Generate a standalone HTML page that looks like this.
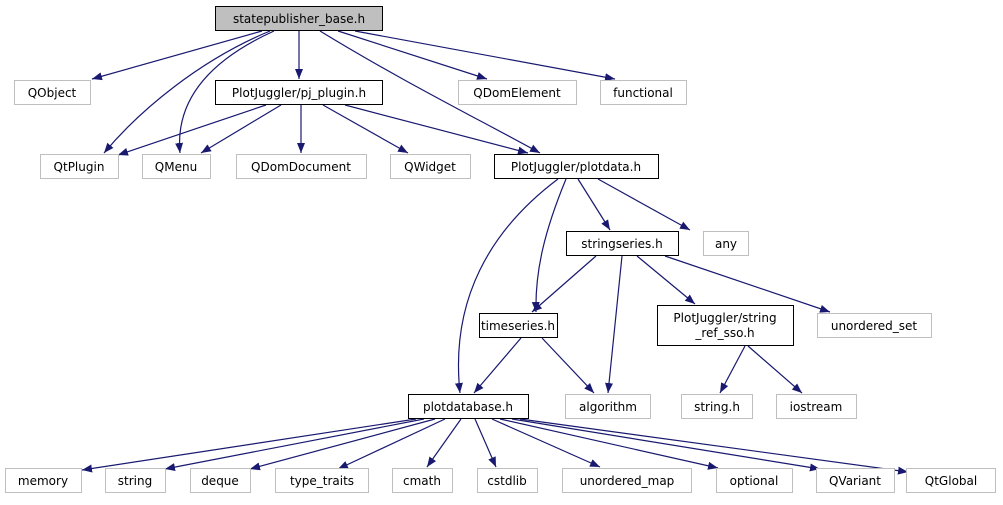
<!DOCTYPE html>
<html><head><meta charset="utf-8"><style>
body{margin:0;background:#fff;width:1003px;height:500px;overflow:hidden}
svg text{font-family:"DejaVu Sans","Liberation Sans",sans-serif;font-size:12px;fill:#000}
</style></head><body>
<svg width="1003" height="500" viewBox="0 0 1003 500" xmlns="http://www.w3.org/2000/svg">
<defs><marker id="a" viewBox="0 0 10 10" refX="10" refY="5" markerWidth="10" markerHeight="10" markerUnits="userSpaceOnUse" orient="auto"><path d="M0,1 L10,5 L0,9 z" fill="#191970"/></marker></defs>
<g stroke="#191970" stroke-width="1.2" fill="none" marker-end="url(#a)">
<path d="M262,31 L92,79"/>
<path d="M270,31 C200,60 140,110 104,153"/>
<path d="M274,31 C210,60 175,100 180,153"/>
<path d="M299,31 L299,79"/>
<path d="M320,31 C400,80 480,120 540,153"/>
<path d="M338,31 L487,79"/>
<path d="M355,31 L615,79"/>
<path d="M266,105 L118,155"/>
<path d="M281,105 L201,153"/>
<path d="M301,105 L301,153"/>
<path d="M323,105 L408,153"/>
<path d="M345,105 L528,153"/>
<path d="M558,179 C490,230 450,300 460,393"/>
<path d="M566,179 C545,230 535,270 536,312"/>
<path d="M578,179 L610,230"/>
<path d="M598,179 L690,230"/>
<path d="M596,256 L532,312"/>
<path d="M622,256 L608,393"/>
<path d="M637,256 L695,304"/>
<path d="M665,256 L830,312"/>
<path d="M521,338 L474,393"/>
<path d="M542,338 L594,393"/>
<path d="M745,346 L720,393"/>
<path d="M748,346 L802,393"/>
<path d="M416,419 L82,470"/>
<path d="M424,419 L165,469"/>
<path d="M435,419 L250,469"/>
<path d="M445,419 L338,469"/>
<path d="M461,419 L427,467"/>
<path d="M475,419 L496,467"/>
<path d="M492,419 L600,467"/>
<path d="M500,419 L718,468"/>
<path d="M512,419 L820,469"/>
<path d="M520,419 L908,472"/>
</g>
<g stroke-width="1">
<rect x="215.5" y="6.5" width="167" height="24" fill="#bfbfbf" stroke="#000"/>
<rect x="14.5" y="80.5" width="76" height="24" fill="#fff" stroke="#bfbfbf"/>
<rect x="215.5" y="80.5" width="167" height="24" fill="#fff" stroke="#000"/>
<rect x="458.5" y="80.5" width="118" height="24" fill="#fff" stroke="#bfbfbf"/>
<rect x="600.5" y="80.5" width="86" height="24" fill="#fff" stroke="#bfbfbf"/>
<rect x="40.5" y="154.5" width="78" height="24" fill="#fff" stroke="#bfbfbf"/>
<rect x="142.5" y="154.5" width="68" height="24" fill="#fff" stroke="#bfbfbf"/>
<rect x="236.5" y="154.5" width="130" height="24" fill="#fff" stroke="#bfbfbf"/>
<rect x="390.5" y="154.5" width="80" height="24" fill="#fff" stroke="#bfbfbf"/>
<rect x="494.5" y="154.5" width="164" height="24" fill="#fff" stroke="#000"/>
<rect x="566.5" y="231.5" width="112" height="24" fill="#fff" stroke="#000"/>
<rect x="703.5" y="231.5" width="45" height="24" fill="#fff" stroke="#bfbfbf"/>
<rect x="479.5" y="313.5" width="78" height="24" fill="#fff" stroke="#000"/>
<rect x="657.5" y="305.5" width="136" height="40" fill="#fff" stroke="#000"/>
<rect x="817.5" y="313.5" width="114" height="24" fill="#fff" stroke="#bfbfbf"/>
<rect x="408.5" y="394.5" width="120" height="24" fill="#fff" stroke="#000"/>
<rect x="565.5" y="394.5" width="85" height="24" fill="#fff" stroke="#bfbfbf"/>
<rect x="681.5" y="394.5" width="71" height="24" fill="#fff" stroke="#bfbfbf"/>
<rect x="776.5" y="394.5" width="80" height="24" fill="#fff" stroke="#bfbfbf"/>
<rect x="5.5" y="468.5" width="76" height="24" fill="#fff" stroke="#bfbfbf"/>
<rect x="105.5" y="468.5" width="60" height="24" fill="#fff" stroke="#bfbfbf"/>
<rect x="190.5" y="468.5" width="60" height="24" fill="#fff" stroke="#bfbfbf"/>
<rect x="275.5" y="468.5" width="93" height="24" fill="#fff" stroke="#bfbfbf"/>
<rect x="392.5" y="468.5" width="60" height="24" fill="#fff" stroke="#bfbfbf"/>
<rect x="477.5" y="468.5" width="60" height="24" fill="#fff" stroke="#bfbfbf"/>
<rect x="562.5" y="468.5" width="129" height="24" fill="#fff" stroke="#bfbfbf"/>
<rect x="716.5" y="468.5" width="76" height="24" fill="#fff" stroke="#bfbfbf"/>
<rect x="816.5" y="468.5" width="78" height="24" fill="#fff" stroke="#bfbfbf"/>
<rect x="906.5" y="468.5" width="89" height="24" fill="#fff" stroke="#bfbfbf"/>
</g>
<g text-anchor="middle">
<text x="299" y="23">statepublisher_base.h</text>
<text x="52" y="97">QObject</text>
<text x="299" y="97">PlotJuggler/pj_plugin.h</text>
<text x="517" y="97">QDomElement</text>
<text x="643" y="97">functional</text>
<text x="79" y="171">QtPlugin</text>
<text x="176" y="171">QMenu</text>
<text x="301" y="171">QDomDocument</text>
<text x="430" y="171">QWidget</text>
<text x="576" y="171">PlotJuggler/plotdata.h</text>
<text x="622" y="248">stringseries.h</text>
<text x="726" y="248">any</text>
<text x="518" y="330">timeseries.h</text>
<text x="725" y="322">PlotJuggler/string</text>
<text x="725" y="337">_ref_sso.h</text>
<text x="874" y="330">unordered_set</text>
<text x="468" y="411">plotdatabase.h</text>
<text x="608" y="411">algorithm</text>
<text x="717" y="411">string.h</text>
<text x="816" y="411">iostream</text>
<text x="43" y="485">memory</text>
<text x="135" y="485">string</text>
<text x="220" y="485">deque</text>
<text x="322" y="485">type_traits</text>
<text x="422" y="485">cmath</text>
<text x="507" y="485">cstdlib</text>
<text x="627" y="485">unordered_map</text>
<text x="754" y="485">optional</text>
<text x="855" y="485">QVariant</text>
<text x="951" y="485">QtGlobal</text>
</g>
</svg>
</body></html>
